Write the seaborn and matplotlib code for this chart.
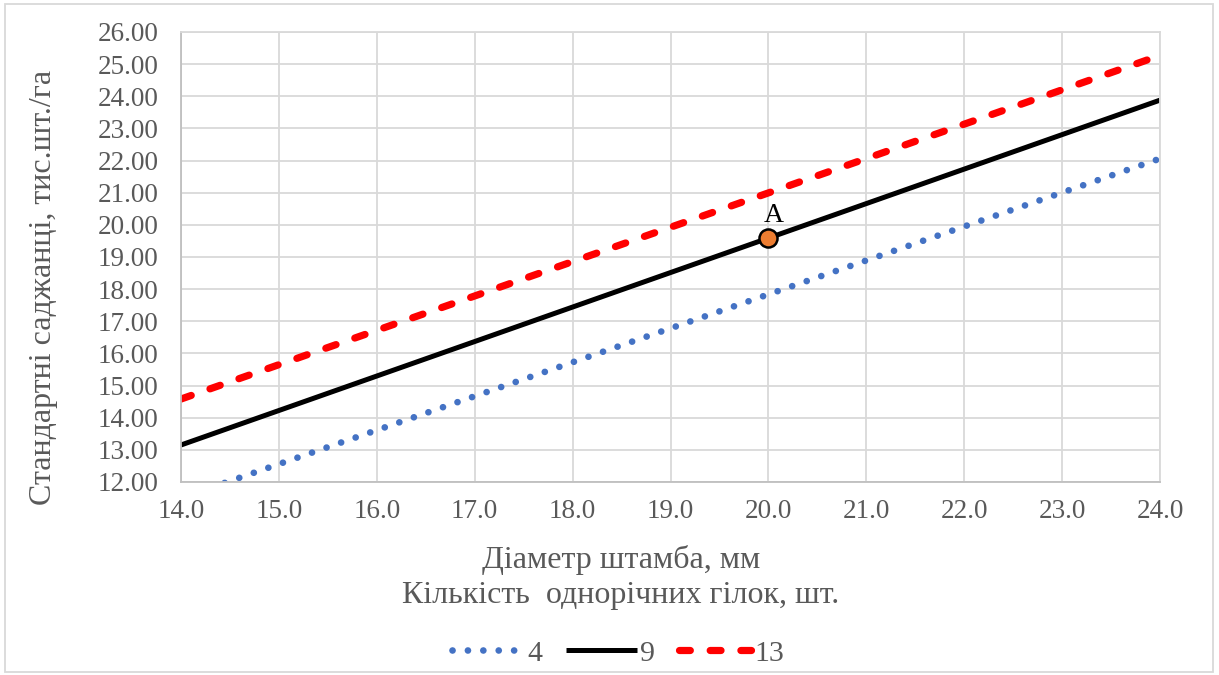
import matplotlib
matplotlib.use("Agg")
import matplotlib.pyplot as plt
import seaborn as sns
import pandas as pd
from matplotlib.patches import Rectangle
from matplotlib.ticker import FormatStrFormatter, MultipleLocator

# Stem diameter (mm) at the ends of each regression line
diameter = [14.0, 24.0]
# Standard planting stock (thousand pcs/ha) for 4, 9 and 13 one-year shoots
shoots_4 = [11.50, 22.06]
shoots_9 = [13.15, 23.88]
shoots_13 = [14.58, 25.27]
series_names = ["4", "9", "13"]

point_a_x = 20.0
point_a_y = 19.6

sns.set_theme(style="white")
plt.rcParams["font.family"] = ["Liberation Serif", "DejaVu Serif"]

grey_text = "#595959"
grid_col = "#d9d9d9"

df = pd.DataFrame({
    "x": diameter * 3,
    "y": shoots_4 + shoots_9 + shoots_13,
    "series": [n for n in series_names for _ in diameter],
})

fig = plt.figure(figsize=(12.19, 6.75), dpi=100)
ax = fig.add_axes([0.1485, 0.286, 0.8031, 0.6666])

colors = {"4": "#4472C4", "9": "#000000", "13": "#FF0000"}
widths = {"4": 4.8, "9": 3.6, "13": 5.2}
# on/off lengths in units of line width
dash_styles = {"4": (0.01, 2.3), "9": None, "13": (1.5, 2.75)}

handles = []
for name in series_names:
    sub = df[df["series"] == name]
    sns.lineplot(data=sub, x="x", y="y", ax=ax, color=colors[name],
                 linewidth=widths[name], legend=False, sort=False)
    line = ax.lines[-1]
    if dash_styles[name] is not None:
        line.set_linestyle((0, dash_styles[name]))
        line.set_dash_capstyle("round")
    line.set_solid_capstyle("butt")
    line.set_label(name)
    handles.append(line)

ax.plot([point_a_x], [point_a_y], marker="o", markersize=13,
        markerfacecolor="#ED7D31", markeredgecolor="black",
        markeredgewidth=1.8, linestyle="none", zorder=5)
ax.text(point_a_x + 0.05, point_a_y + 0.3, "A", fontsize=20, color="black",
        ha="center", va="bottom", zorder=6)

ax.set_xlim(14, 24)
ax.set_ylim(12, 26)
ax.xaxis.set_major_locator(MultipleLocator(1))
ax.yaxis.set_major_locator(MultipleLocator(1))
ax.xaxis.set_major_formatter(FormatStrFormatter("%.1f"))
ax.yaxis.set_major_formatter(FormatStrFormatter("%.2f"))
ax.grid(True, color=grid_col, linewidth=1.3)
ax.set_axisbelow(True)
for side, sp in ax.spines.items():
    sp.set_color(grid_col)
    sp.set_linewidth(1.3)
ax.spines["left"].set_color("#bfbfbf")
ax.spines["bottom"].set_color("#bfbfbf")
ax.tick_params(axis="both", labelsize=19.5, colors=grey_text, length=0)
ax.tick_params(axis="y", pad=16)
ax.tick_params(axis="x", pad=12)

ax.set_ylabel("Стандартні саджанці, тис.шт./га", fontsize=23,
              color=grey_text)
ax.yaxis.set_label_coords(-0.126, 0.433)
ax.set_xlabel("")
fig.text(0.5095, 0.1447,
         "Діаметр штамба, мм\nКількість  однорічних гілок, шт.",
         fontsize=23, color=grey_text, ha="center", va="center",
         linespacing=1.3, multialignment="center")

leg = fig.legend(handles=handles, labels=series_names, loc="center",
                 bbox_to_anchor=(0.507, 0.032), ncol=3, frameon=False,
                 fontsize=21.5, handlelength=2.4, handletextpad=0.1,
                 columnspacing=0.8)
for t in leg.get_texts():
    t.set_color(grey_text)

fig.patches.append(Rectangle((0.004, 0.004), 0.991, 0.99,
                             transform=fig.transFigure, fill=False,
                             edgecolor="#d9d9d9", linewidth=1.3))

fig.savefig("out.png", dpi=100)
